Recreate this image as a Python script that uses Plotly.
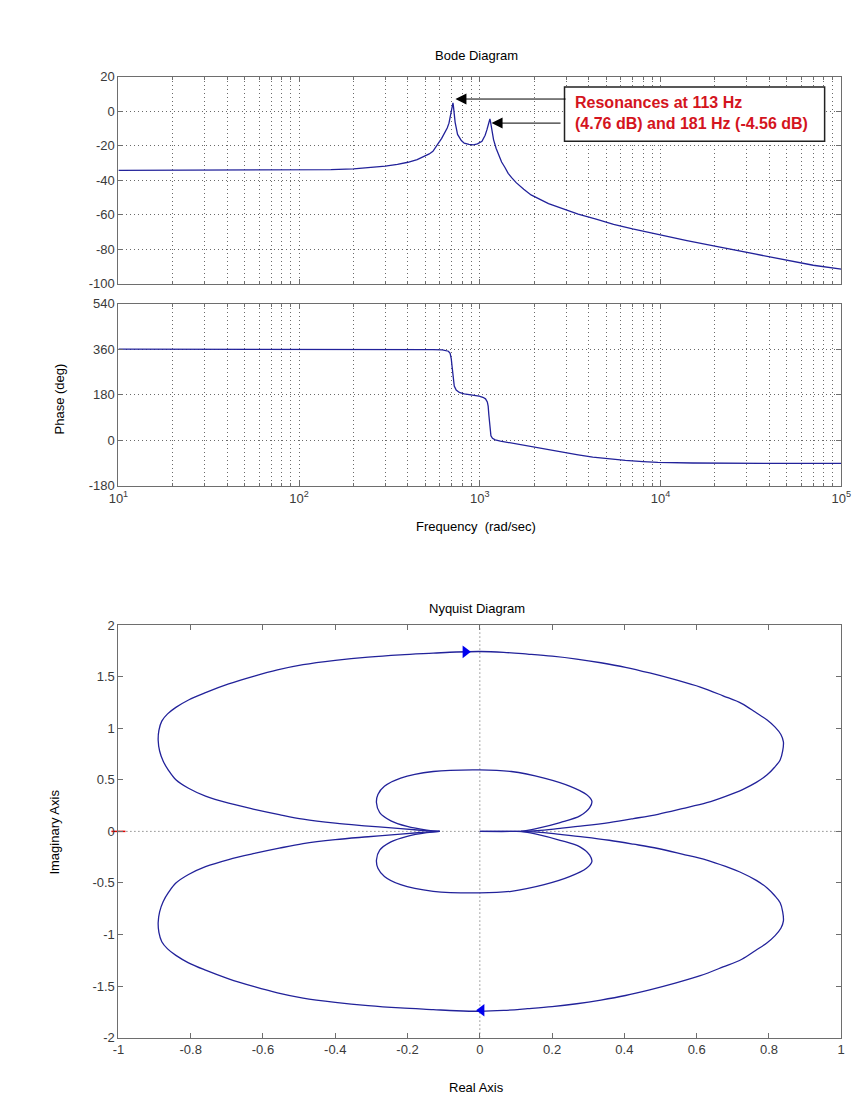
import plotly.graph_objects as go

# ---------------- data ----------------
# Bode magnitude
mag_freq = [10, 30, 100, 150, 200, 250, 300, 350, 400, 450,
            500, 525, 550, 570, 590, 615, 640, 660, 675, 690,
            700, 706, 710, 714, 720, 730, 753, 790, 820, 870,
            921, 970, 1028, 1070, 1094, 1115, 1130, 1137, 1145, 1160,
            1191, 1230, 1268, 1320, 1375, 1435, 1500, 1589, 1750, 1920,
            2400, 2900, 3500, 4400, 5500, 7000, 10000, 14000, 20000, 30000,
            50000, 70000, 100000]
mag_db = [-34.3, -34.3, -34.2, -33.9, -33.4, -32.7, -31.8, -30.8, -29.6, -28.1,
          -26.0, -24.8, -23.3, -21.2, -18.5, -15.8, -12.8, -9.8, -7.0, -2.0,
          1.5, 4.0, 4.76, 3.0, -1.4, -6.5, -13.5, -17.0, -18.6, -19.3,
          -19.5, -19.0, -17.5, -14.0, -10.9, -7.5, -5.2, -4.56, -6.0, -10.5,
          -16.5, -21.5, -25.5, -29.5, -32.5, -36.0, -38.5, -41.4, -45.2, -48.5,
          -53.5, -56.6, -59.6, -62.5, -65.5, -68.2, -71.8, -74.9, -78.2, -81.8,
          -86.3, -89.2, -91.4]

# Bode phase
phase_freq = [10, 200, 400, 550, 620, 650, 670, 685, 695, 703,
              708, 714, 722, 740, 770, 820, 900, 990, 1040, 1075,
              1100, 1112, 1122, 1130, 1140, 1152, 1175, 1216, 1300, 1500,
              1841, 2200, 2786, 3500, 4217, 5000, 6383, 8000, 9660, 15000,
              22180, 50000, 100000]
phase_deg = [360, 360, 359.5, 358.5, 357, 355, 352, 344, 322, 288,
             262, 234, 214, 199, 189, 184, 180, 175, 170, 164,
             152, 135, 100, 70, 40, 18, 8, 2, -3, -11,
             -21, -33, -45, -57, -66, -72, -79, -84, -87, -89.5,
             -90.5, -91, -91]

# Nyquist: large loop (from the right tip, over the extreme, to the left tip)
big_re = [0.000, 0.100, 0.159, 0.222, 0.290, 0.358, 0.425, 0.493, 0.560, 0.628,
          0.680, 0.727, 0.765, 0.795, 0.815, 0.831, 0.838, 0.840, 0.833, 0.817,
          0.795, 0.763, 0.725, 0.673, 0.610, 0.538, 0.470, 0.403, 0.335, 0.268,
          0.200, 0.132, 0.066, 0.000, -0.065, -0.129, -0.220, -0.309, -0.400,
          -0.489, -0.560, -0.624, -0.695, -0.759, -0.806, -0.841, -0.864, -0.880,
          -0.888, -0.890, -0.886, -0.876, -0.861, -0.841, -0.806, -0.759, -0.695,
          -0.624, -0.555, -0.489, -0.400, -0.309, -0.219, -0.160, -0.111]
big_im_upper = [0.000, 0.000, 0.007, 0.029, 0.055, 0.086, 0.124, 0.166, 0.220, 0.278,
                0.340, 0.406, 0.475, 0.549, 0.620, 0.693, 0.780, 0.868, 0.940, 1.011,
                1.080, 1.155, 1.240, 1.315, 1.400, 1.474, 1.537, 1.592, 1.636, 1.672,
                1.700, 1.720, 1.737, 1.745, 1.740, 1.729, 1.713, 1.691, 1.659,
                1.617, 1.566, 1.506, 1.430, 1.346, 1.275, 1.203, 1.140, 1.070,
                0.980, 0.884, 0.780, 0.680, 0.590, 0.501, 0.418, 0.342, 0.273,
                0.214, 0.163, 0.119, 0.080, 0.052, 0.026, 0.010, 0.000]
big_im_lower = [-0.000, -0.000, -0.007, -0.029, -0.055, -0.086, -0.124, -0.166, -0.220, -0.278,
                -0.340, -0.406, -0.475, -0.549, -0.620, -0.693, -0.780, -0.868, -0.940, -1.011,
                -1.080, -1.155, -1.240, -1.315, -1.400, -1.474, -1.537, -1.592, -1.636, -1.672,
                -1.700, -1.720, -1.737, -1.745, -1.740, -1.729, -1.713, -1.691, -1.659,
                -1.617, -1.566, -1.506, -1.430, -1.346, -1.275, -1.203, -1.140, -1.070,
                -0.980, -0.884, -0.780, -0.680, -0.590, -0.501, -0.418, -0.342, -0.273,
                -0.214, -0.163, -0.119, -0.080, -0.052, -0.026, -0.010, -0.000]

# Nyquist: small loop (from the left tip, over the extreme, to the right tip)
small_re = [-0.111, -0.147, -0.201, -0.246, -0.277, -0.286, -0.282, -0.264, -0.219, -0.129,
            0.000, 0.087, 0.178, 0.250, 0.295, 0.310, 0.304, 0.277, 0.222, 0.159, 0.114]
small_im_upper = [0.000, 0.013, 0.048, 0.102, 0.182, 0.278, 0.358, 0.437, 0.517, 0.581,
                  0.597, 0.581, 0.517, 0.437, 0.358, 0.294, 0.230, 0.150, 0.086, 0.029, 0.000]
small_im_lower = [-0.000, -0.013, -0.048, -0.102, -0.182, -0.278, -0.358, -0.437, -0.517, -0.581,
                  -0.597, -0.581, -0.517, -0.437, -0.358, -0.294, -0.230, -0.150, -0.086, -0.029, -0.000]

# direction arrows and critical point
arrow_re = [-0.04, 0.005]
arrow_im = [1.742, -1.735]
arrow_symbols = ["triangle-right", "triangle-left"]
critical_re = [-1]
critical_im = [0]

# ticks
freq_ticks = [10, 100, 1000, 10000, 100000]
freq_ticklabels = ["10<sup>1</sup>", "10<sup>2</sup>", "10<sup>3</sup>", "10<sup>4</sup>", "10<sup>5</sup>"]
mag_ticks = [20, 0, -20, -40, -60, -80, -100]
mag_ticklabels = ["20", "0", "-20", "-40", "-60", "-80", "-100"]
phase_ticks = [540, 360, 180, 0, -180]
phase_ticklabels = ["540", "360", "180", "0", "-180"]
re_ticks = [-1, -0.8, -0.6, -0.4, -0.2, 0, 0.2, 0.4, 0.6, 0.8, 1]
re_ticklabels = ["-1", "-0.8", "-0.6", "-0.4", "-0.2", "0", "0.2", "0.4", "0.6", "0.8", "1"]
im_ticks = [-2, -1.5, -1, -0.5, 0, 0.5, 1, 1.5, 2]
im_ticklabels = ["-2", "-1.5", "-1", "-0.5", "0", "0.5", "1", "1.5", "2"]

annotation_text = "<b>Resonances at 113 Hz</b><br><b>(4.76 dB) and 181 Hz (-4.56 dB)</b>"

# ---------------- styling / layout ----------------
W, H = 861, 1108
FONT = "Liberation Sans, Arial, Helvetica, sans-serif"
LINE = "#22229a"
FRAME = "#6e6e6e"
GRID = "#6a6a6a"
GRIDDASH = "1px,3px"
TICKFONT = dict(family=FONT, size=13, color="#3a3a3a")


def px(xp):
    return xp / W


def py(yp):
    return 1 - yp / H


X_DOM = [px(111), px(851)]
minor_freq = [k * 10 ** e for e in range(1, 5) for k in range(2, 10)]

fig = go.Figure()

fig.add_trace(go.Scatter(x=mag_freq, y=mag_db, xaxis="x", yaxis="y", mode="lines",
                         line=dict(color=LINE, width=1.3), showlegend=False, hoverinfo="skip"))
fig.add_trace(go.Scatter(x=phase_freq, y=phase_deg, xaxis="x2", yaxis="y2", mode="lines",
                         line=dict(color=LINE, width=1.3), showlegend=False, hoverinfo="skip"))

for re_list, im_list in [(big_re, big_im_upper), (big_re, big_im_lower),
                         (small_re, small_im_upper), (small_re, small_im_lower)]:
    fig.add_trace(go.Scatter(x=re_list, y=im_list, xaxis="x3", yaxis="y3", mode="lines",
                             line=dict(color=LINE, width=1.3, shape="spline", smoothing=1.0),
                             showlegend=False, hoverinfo="skip"))

fig.add_trace(go.Scatter(x=arrow_re, y=arrow_im, xaxis="x3", yaxis="y3", mode="markers",
                         marker=dict(symbol=arrow_symbols, size=11, color="#0000ee"),
                         showlegend=False, hoverinfo="skip"))
fig.add_trace(go.Scatter(x=critical_re, y=critical_im, xaxis="x3", yaxis="y3", mode="markers",
                         marker=dict(symbol="line-ew", size=10, line=dict(color="#e00000", width=1.5)),
                         cliponaxis=False, showlegend=False, hoverinfo="skip"))

common = dict(showline=True, linecolor=FRAME, linewidth=1, mirror="ticks", ticks="inside",
              ticklen=5, tickcolor=FRAME, tickfont=TICKFONT, zeroline=False)

log_x = dict(type="log", range=[1, 5], tickmode="array", tickvals=freq_ticks,
             showgrid=True, gridcolor=GRID, griddash=GRIDDASH, gridwidth=1,
             minor=dict(tickmode="array", tickvals=minor_freq, ticks="inside", ticklen=3,
                        tickcolor=FRAME, showgrid=True, gridcolor=GRID, griddash=GRIDDASH, gridwidth=1),
             **common)

fig.update_layout(
    width=W, height=H, autosize=False,
    margin=dict(l=0, r=0, t=0, b=0),
    paper_bgcolor="white", plot_bgcolor="white",
    font=dict(family=FONT, size=13, color="#000"),
    xaxis=dict(domain=X_DOM, anchor="y", showticklabels=False, **log_x),
    yaxis=dict(domain=[py(280.7), py(70.5)], anchor="x", range=[-100, 20], tickmode="array",
               tickvals=mag_ticks, ticktext=mag_ticklabels,
               showgrid=True, gridcolor=GRID, griddash=GRIDDASH, **common),
    xaxis2=dict(domain=X_DOM, anchor="y2", ticktext=freq_ticklabels, **log_x),
    yaxis2=dict(domain=[py(485.5), py(300.7)], anchor="x2", range=[-180, 540], tickmode="array",
                tickvals=phase_ticks, ticktext=phase_ticklabels,
                showgrid=True, gridcolor=GRID, griddash=GRIDDASH, **common),
    xaxis3=dict(domain=X_DOM, anchor="y3", range=[-1, 1], tickmode="array",
                tickvals=re_ticks, ticktext=re_ticklabels, showgrid=False, **common),
    yaxis3=dict(domain=[py(1044.7), py(626.7)], anchor="x3", range=[-2, 2], tickmode="array",
                tickvals=im_ticks, ticktext=im_ticklabels, showgrid=False, **common),
)

# Nyquist reference lines (dotted axes through the origin)
fig.add_shape(type="line", xref="x3", yref="y3", x0=-1, x1=1, y0=0, y1=0, layer="below",
              line=dict(color="#555555", width=1, dash=GRIDDASH))
fig.add_shape(type="line", xref="x3", yref="y3", x0=0, x1=0, y0=-2, y1=2, layer="below",
              line=dict(color="#555555", width=1, dash=GRIDDASH))

# annotation box
fig.add_shape(type="rect", xref="paper", yref="paper", x0=px(567.7), x1=px(834), y0=py(136), y1=py(81),
              fillcolor="white", line=dict(color="#222222", width=1.5), layer="above")

annots = [
    dict(text="Bode Diagram", x=px(478), y=py(49), font=dict(size=13, color="#000")),
    dict(text="Frequency \u00a0(rad/sec)", x=px(477), y=py(527), font=dict(size=13, color="#000")),
    dict(text="Phase (deg)", x=px(51), y=py(397), textangle=-90, font=dict(size=13, color="#000")),
    dict(text="Nyquist Diagram", x=px(478), y=py(610), font=dict(size=13, color="#000")),
    dict(text="Real Axis", x=px(478), y=py(1095), font=dict(size=13, color="#000")),
    dict(text="Imaginary Axis", x=px(46), y=py(836), textangle=-90, font=dict(size=13, color="#000")),
    dict(text=annotation_text, x=px(576), y=py(107), xanchor="left", align="left",
         font=dict(size=16, color="#d41420", family="Liberation Sans, Arial, sans-serif")),
]
for a in annots:
    base = dict(xref="paper", yref="paper", showarrow=False, xanchor="center", yanchor="middle")
    base.update(a)
    fig.add_annotation(**base)

# arrows pointing to the resonance peaks
for head_x, head_y, tail_x in [(456, 93.3, 567.7), (493, 117.7, 563.5)]:
    fig.add_annotation(xref="paper", yref="paper", x=px(head_x), y=py(head_y),
                       ax=tail_x - head_x, ay=0, axref="pixel", ayref="pixel",
                       showarrow=True, arrowhead=2, arrowsize=2.2, arrowwidth=1,
                       arrowcolor="#000000", text="")

fig.write_html("out.html")
